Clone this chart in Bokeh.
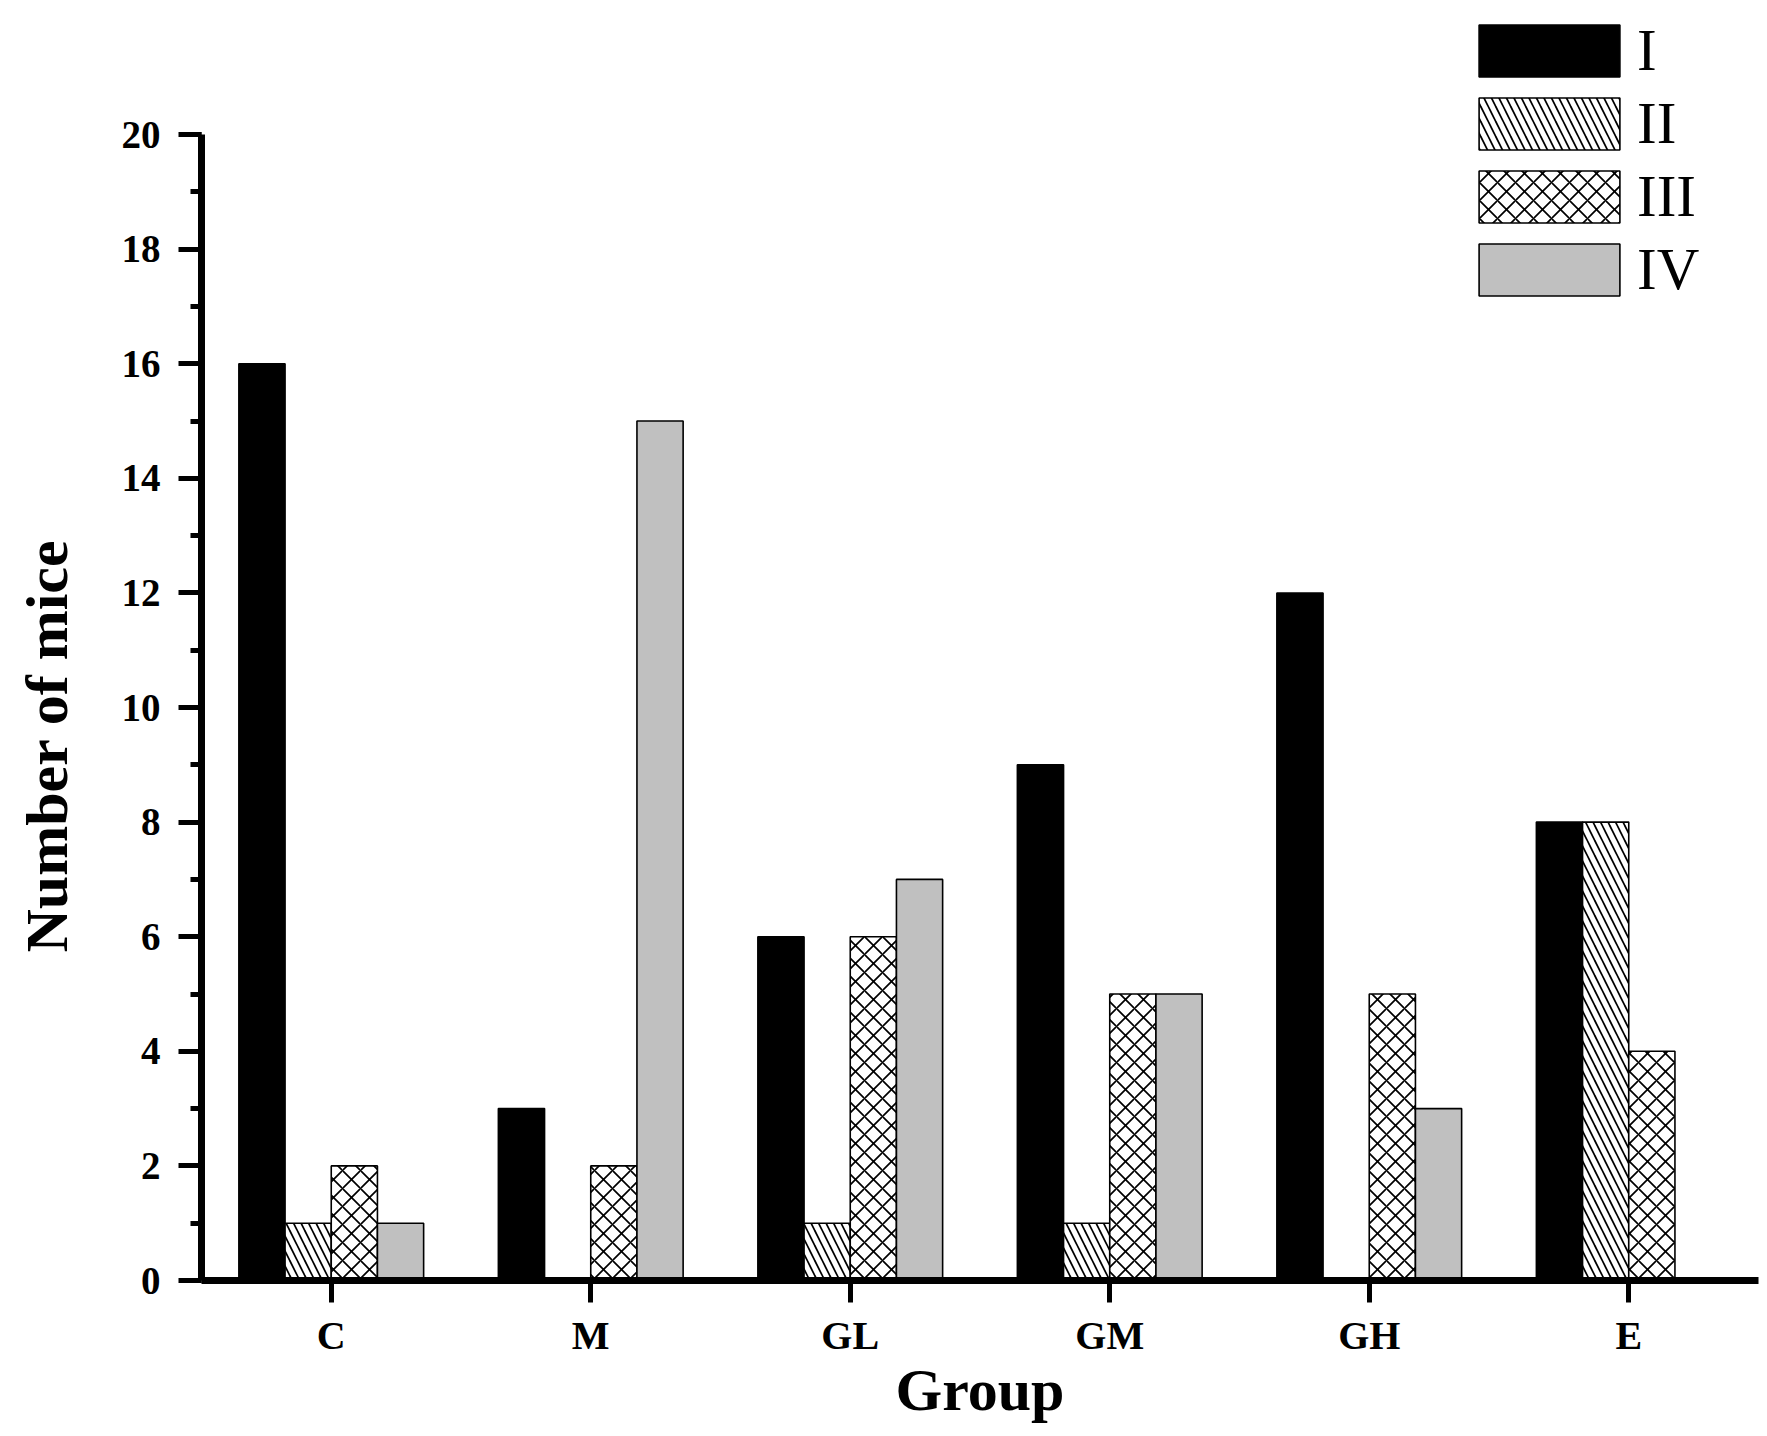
from bokeh.plotting import figure
from bokeh.models import (ColumnDataSource, FactorRange, Range1d, Legend, LegendItem,
                          SingleIntervalTicker, FixedTicker, LinearAxis, Title)
from bokeh.transform import dodge
from bokeh.embed import file_html
from bokeh.resources import INLINE

groups = ["C", "M", "GL", "GM", "GH", "E"]
series_names = ["I", "II", "III", "IV"]
stage_I = [16, 3, 6, 9, 12, 8]
stage_II = [1, 0, 1, 1, 0, 8]
stage_III = [2, 2, 6, 5, 5, 4]
stage_IV = [1, 15, 7, 5, 3, 0]
y_ticks_major = 2

source = ColumnDataSource(dict(group=groups, I=stage_I, II=stage_II, III=stage_III, IV=stage_IV))

FONT = "Liberation Serif"

p = figure(x_range=FactorRange(*groups), y_range=Range1d(0, 22.2),
           frame_width=1557, frame_height=1272,
           min_border_left=200, min_border_top=8, min_border_right=4, min_border_bottom=0,
           output_backend="svg", toolbar_location=None)

bw = 0.178
styles = [
    dict(fill_color="black", hatch_pattern=None, hatch_scale=15),
    dict(fill_color="white", hatch_pattern="\\", hatch_scale=15),
    dict(fill_color="white", hatch_pattern="x", hatch_scale=18),
    dict(fill_color="#c0c0c0", hatch_pattern=None, hatch_scale=15),
]
offsets = [-1.5 * bw, -0.5 * bw, 0.5 * bw, 1.5 * bw]
renderers = []
for name, off, st in zip(series_names, offsets, styles):
    kw = dict(fill_color=st["fill_color"], line_color="black", line_width=1.6)
    if st["hatch_pattern"]:
        kw.update(hatch_pattern=st["hatch_pattern"], hatch_color="black",
                  hatch_scale=st["hatch_scale"], hatch_weight=1.7)
    r = p.vbar(x=dodge("group", off, range=p.x_range), top=name, width=bw,
               source=source, **kw)
    renderers.append(r)

legend = Legend(items=[LegendItem(label=n, renderers=[r]) for n, r in zip(series_names, renderers)],
                location=(1260, 976), glyph_width=176, glyph_height=65, label_standoff=0,
                spacing=4, padding=0, margin=0,
                label_text_font=FONT, label_text_font_size="59px", label_text_color="black",
                border_line_color=None, background_fill_alpha=0)
p.add_layout(legend)

p.xgrid.visible = False
p.ygrid.visible = False
p.outline_line_color = None

# y axis
ya = p.yaxis[0]
ya.ticker = SingleIntervalTicker(interval=y_ticks_major, num_minor_ticks=2)
ya.bounds = (0, 20)
ya.axis_line_width = 7
ya.major_tick_line_width = 5
ya.minor_tick_line_width = 5
ya.major_tick_out = 23
ya.major_tick_in = 0
ya.minor_tick_out = 11
ya.minor_tick_in = 0
ya.major_label_text_font = FONT
ya.major_label_text_font_style = "bold"
ya.major_label_text_font_size = "39px"
ya.major_label_text_color = "black"
ya.major_label_standoff = 18

# empty spacer between tick labels and the y title (one invisible tick, no label)
spacer = LinearAxis(ticker=FixedTicker(ticks=[10]), major_label_overrides={10: ""},
                    axis_line_color=None, major_tick_line_color=None, minor_tick_line_color=None,
                    major_tick_out=24, major_tick_in=0, minor_tick_out=0, minor_tick_in=0,
                    major_label_standoff=0)
p.add_layout(spacer, "left")

ytitle = Title(text="Number of mice", align="left", offset=328, standoff=26,
               vertical_align="top",
               text_font=FONT, text_font_style="bold", text_font_size="60px",
               text_color="black")
p.add_layout(ytitle, "left")

xa = p.xaxis[0]
xa.axis_line_width = 7
xa.major_tick_line_width = 5
xa.major_tick_out = 22
xa.major_tick_in = 0
xa.minor_tick_out = 0
xa.major_label_text_font = FONT
xa.major_label_text_font_style = "bold"
xa.major_label_text_font_size = "40px"
xa.major_label_text_color = "black"
xa.major_label_standoff = 10
xa.axis_label = "Group"
xa.axis_label_text_font = FONT
xa.axis_label_text_font_style = "bold"
xa.axis_label_text_font_size = "60px"
xa.axis_label_text_color = "black"
xa.axis_label_standoff = -4

open("out.html", "w").write(file_html(p, INLINE))
